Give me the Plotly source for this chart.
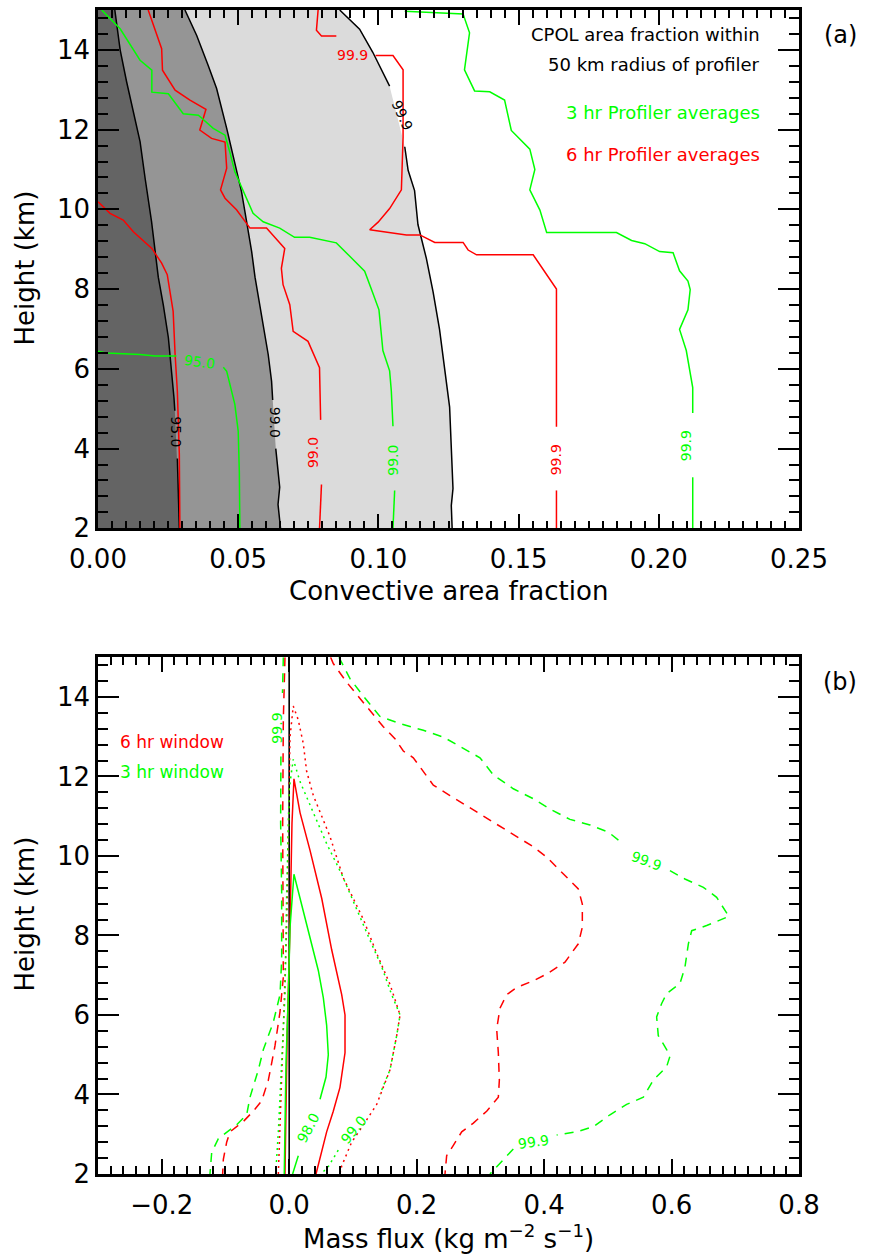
import plotly.graph_objects as go

FONT = "DejaVu Sans"
RED = "#ff0000"
GREEN = "#00ff00"

# ---------------- Panel (a): CPOL convective area fraction percentiles ----------------
# CPOL 95.0 percentile (black)
cpol95_h = [15.0, 14.0, 13.2, 12.44, 11.7, 10.78, 9.69, 8.3, 7.6, 6.78, 5.94, 5.27, 4.95, None, 3.75, 3.03, 2.0]
cpol95_x = [0.006, 0.0079, 0.0102, 0.0126, 0.015, 0.0168, 0.0191, 0.0215, 0.0233, 0.0251, 0.0263, 0.0271, 0.0274, None, 0.0283, 0.0286, 0.029]
# CPOL 99.0 percentile (black)
cpol99_h = [15.0, 14.36, 13.61, 13.03, 12.03, 11.19, 10.44, 9.69, 8.94, 8.3, 7.6, 6.94, 6.36, 5.69, 5.22, None, 4.0, 3.6, 3.03, 2.6, 2.0]
cpol99_x = [0.031, 0.0352, 0.0393, 0.0423, 0.0459, 0.0488, 0.0512, 0.053, 0.0548, 0.056, 0.0577, 0.0595, 0.0607, 0.0619, 0.0623, None, 0.0634, 0.064, 0.0648, 0.0642, 0.0651]
# CPOL 99.9 percentile (black)
cpol999_h = [15.0, 14.52, 13.94, 13.09, None, 11.57, 10.98, 10.47, 9.62, 8.77, 7.93, 6.99, 6.06, 5.04, 3.0, 2.57, 2.0]
cpol999_x = [0.0862, 0.0933, 0.098, 0.104, None, 0.1094, 0.1106, 0.1129, 0.1141, 0.1171, 0.1195, 0.1218, 0.1236, 0.1254, 0.1266, 0.126, 0.1263]

# 6 hr profiler averages (red)
p6_95_h = [10.19, 9.9, 9.73, 9.44, 9.02, 8.65, 8.36, 7.94, 7.44, 6.36, 5.44, 3.86, 2.0]
p6_95_x = [0.0, 0.0043, 0.009, 0.0126, 0.0192, 0.0227, 0.0247, 0.0257, 0.0268, 0.0275, 0.0283, 0.029, 0.0292]
p6_99_h = [15.0, 14.03, 13.49, 12.99, 12.74, 12.51, 11.99, 11.78, 11.69, 11.03, 10.49, 10.28, 9.99, 9.53, 9.53, 9.02, 8.52, 8.11, 7.61, 6.94, 6.69, 6.03, 4.72, None, 3.1, 2.0]
p6_99_x = [0.0179, 0.0227, 0.023, 0.0275, 0.0328, 0.0385, 0.0363, 0.0405, 0.0453, 0.0459, 0.0437, 0.0453, 0.0494, 0.0542, 0.0601, 0.0666, 0.0654, 0.066, 0.0684, 0.0696, 0.0749, 0.079, 0.0794, None, 0.0797, 0.079]
p6_999_h = [15.0, 14.49, 14.35, 14.35, None, 13.86, 13.86, 13.5, 11.8, 10.49, 10.02, 9.68, 9.49, 9.36, 9.36, 9.17, 9.17, 8.98, 8.86, 8.86, 8.0, 4.55, None, 2.95, 2.0]
p6_999_x = [0.0785, 0.0779, 0.0797, 0.085, None, 0.099, 0.1052, 0.1088, 0.1088, 0.1082, 0.104, 0.0999, 0.0969, 0.11, 0.1148, 0.1201, 0.1302, 0.132, 0.135, 0.1552, 0.1635, 0.1635, None, 0.1635, 0.1635]

# 3 hr profiler averages (green)
p3_95_h = [6.44, 6.4, 6.36, 6.32, 6.32, None, 6.04, 5.94, 5.11, 4.44, 3.44, 2.0]
p3_95_x = [0.0, 0.003, 0.015, 0.0203, 0.028, None, 0.0447, 0.0459, 0.0488, 0.05, 0.0504, 0.0506]
p3_99_h = [15.0, 14.53, 13.74, 13.49, 12.94, 12.9, 12.4, 12.36, 12.03, 11.86, 11.44, 10.94, 9.9, 9.69, 9.53, 9.3, 9.3, 9.22, 9.16, 8.83, 8.45, 7.9, 7.48, 6.46, 5.95, 5.45, 4.56, None, 2.95, 2.0]
p3_99_x = [0.0013, 0.0079, 0.015, 0.0192, 0.0192, 0.0251, 0.0304, 0.0358, 0.0411, 0.0453, 0.047, 0.0488, 0.0553, 0.0589, 0.0648, 0.0701, 0.0755, 0.0803, 0.085, 0.0897, 0.0951, 0.098, 0.1002, 0.1016, 0.104, 0.1046, 0.1052, None, 0.1058, 0.1052]
p3_999_h = [14.97, 14.9, 14.43, 13.5, 12.97, 12.95, 12.74, 11.98, 11.51, 11.0, 10.49, 9.98, 9.42, 9.42, 9.22, 9.14, 8.94, 8.91, 8.46, 8.2, 7.99, 7.48, 6.99, 6.46, 5.53, 4.89, None, 3.28, 2.0]
p3_999_x = [0.1094, 0.1302, 0.1325, 0.1307, 0.1343, 0.1397, 0.145, 0.1474, 0.154, 0.1558, 0.154, 0.1576, 0.16, 0.1849, 0.1903, 0.195, 0.2003, 0.2051, 0.2074, 0.2104, 0.2112, 0.2104, 0.2074, 0.2098, 0.2121, 0.2121, None, 0.2121, 0.2121]

# ---------------- Panel (b): mass flux percentiles ----------------
# 3 hr window, 98.0 (solid green)
m3_98_x = [-0.0077, -0.005, -0.0013, 0.0013, 0.0075, 0.0222, 0.0379, 0.0457, 0.0536, 0.0588, 0.0614, 0.0578, 0.0484, None, 0.0143, 0.0054]
m3_98_h = [2.0, 4.8, 6.5, 8.2, 9.54, 8.59, 7.64, 7.12, 6.43, 5.74, 5.0, 4.44, 3.88, None, 2.46, 2.0]
# 6 hr window, 98.0 (solid red)
m6_98_x = [-0.0066, -0.003, 0.0013, 0.0044, 0.0075, 0.017, 0.0327, 0.0511, 0.0667, 0.0824, 0.0876, 0.0876, 0.0797, 0.0692, 0.0588, 0.0511, 0.0421]
m6_98_h = [2.0, 5.65, 8.24, 10.83, 11.94, 11.09, 10.14, 8.93, 7.64, 6.51, 6.0, 5.05, 4.18, 3.58, 3.06, 2.54, 2.0]
# 3 hr window, 99.0 (dotted green)
m3_99_x = [-0.0212, -0.017, -0.0118, -0.0066, -0.0039, 0.0002, 0.0064, 0.017, 0.0379, 0.0588, 0.0824, 0.1006, 0.1241, 0.1452, 0.1608, 0.174, 0.1687, 0.1582, 0.1425, None, 0.077, 0.062, 0.05]
m3_99_h = [2.0, 3.06, 4.8, 6.5, 9.1, 11.7, 12.43, 11.87, 11.09, 10.31, 9.54, 8.85, 7.98, 7.21, 6.51, 6.0, 5.48, 4.62, 4.01, None, 2.6, 2.2, 2.0]
# 6 hr window, 99.0 (dotted red)
m6_99_x = [-0.017, -0.0134, -0.0092, -0.0039, -0.0013, 0.0013, 0.0064, 0.0143, 0.0222, 0.0274, 0.0379, 0.064, 0.0849, 0.1163, 0.1373, 0.1582, 0.174, 0.1687, 0.1582, 0.1373, 0.1163, 0.098, 0.0824, 0.0797]
m6_99_h = [2.0, 3.93, 5.65, 8.24, 10.83, 12.99, 13.77, 13.42, 12.82, 12.13, 11.52, 10.49, 9.45, 8.41, 7.55, 6.77, 6.0, 5.48, 4.62, 3.75, 3.23, 2.8, 2.2, 2.0]
# 3 hr window, 99.9 (dashed green): left and right branches
m3_999L_x = [-0.0092, -0.0105, None, -0.013, -0.0134, -0.0118, -0.0118, -0.0144, -0.0249, -0.0405, -0.0484, -0.0615, -0.0667, -0.0824, -0.0981, -0.1112, -0.1216, -0.1243]
m3_999L_h = [15.0, 14.1, None, 12.5, 10.83, 9.1, 7.38, 6.51, 5.82, 5.13, 4.62, 3.93, 3.49, 3.24, 3.06, 2.89, 2.54, 2.0]
m3_999R_x = [0.078, 0.0954, 0.1163, 0.1425, 0.1739, 0.2105, 0.2419, 0.2707, 0.2994, 0.3203, 0.3517, 0.3831, 0.4092, 0.4406, 0.472, 0.5008, 0.5243, None, 0.5975, 0.621, 0.65, 0.6708, 0.69, 0.676, 0.6551, 0.6316, 0.6264, 0.621, 0.6132, 0.5923, 0.5845, 0.5766, 0.5792, 0.5923, 0.5975, 0.5923, 0.5714, 0.5557, 0.5295, 0.5034, 0.4772, 0.4511, 0.4197, None, 0.3517, 0.336, 0.3203, 0.3151]
m3_999R_h = [15.0, 14.46, 14.02, 13.51, 13.33, 13.16, 12.99, 12.73, 12.47, 12.04, 11.69, 11.44, 11.18, 10.92, 10.78, 10.6, 10.3, None, 9.63, 9.42, 9.21, 8.96, 8.48, 8.38, 8.25, 8.12, 7.79, 7.2, 6.79, 6.54, 6.29, 5.95, 5.48, 5.13, 4.96, 4.7, 4.36, 3.93, 3.75, 3.49, 3.19, 3.06, 2.98, None, 2.63, 2.37, 2.11, 2.0]
# 6 hr window, 99.9 (dashed red): left and right branches
m6_999L_x = [-0.0066, -0.0092, -0.0102, -0.0092, -0.0092, -0.0144, -0.0223, -0.0327, -0.0432, -0.0563, -0.072, -0.0929, -0.0981, -0.1033, -0.1044]
m6_999L_h = [15.0, 13.42, 10.83, 8.24, 6.95, 6.08, 5.22, 4.36, 3.84, 3.58, 3.32, 3.06, 2.8, 2.37, 2.0]
m6_999R_x = [0.065, 0.0692, 0.0902, 0.1216, 0.1477, 0.166, 0.1791, 0.1948, 0.2105, 0.2262, 0.2523, 0.2785, 0.3047, 0.3308, 0.357, 0.3831, 0.4041, 0.4302, 0.4537, 0.46, 0.46, 0.4537, 0.4328, 0.4041, 0.3831, 0.357, 0.3413, 0.3308, 0.3256, 0.3282, 0.3298, 0.3282, 0.3099, 0.289, 0.2707, 0.2576, 0.2471, 0.2445]
m6_999R_h = [15.0, 14.84, 14.37, 13.77, 13.25, 12.95, 12.64, 12.47, 12.13, 11.78, 11.52, 11.26, 11.0, 10.74, 10.49, 10.23, 9.97, 9.54, 9.17, 8.79, 8.21, 7.79, 7.33, 7.03, 6.86, 6.69, 6.51, 6.17, 5.65, 5.05, 4.36, 3.93, 3.58, 3.28, 3.06, 2.72, 2.46, 2.0]

# ---------------- axis ticks ----------------
height_ticks = [2, 4, 6, 8, 10, 12, 14]
frac_ticks = [0.0, 0.05, 0.10, 0.15, 0.20, 0.25]
flux_ticks = [-0.2, 0.0, 0.2, 0.4, 0.6, 0.8]


def clean(xs, ys):
    pts = [(a, b) for a, b in zip(xs, ys) if a is not None]
    return [p[0] for p in pts], [p[1] for p in pts]


fig = go.Figure()

# gray filled percentile regions (panel a)
for xs, ys, col in [(cpol999_x, cpol999_h, "#dbdbdb"),
                    (cpol99_x, cpol99_h, "#959595"),
                    (cpol95_x, cpol95_h, "#646464")]:
    cx, cy = clean(xs, ys)
    fig.add_trace(go.Scatter(x=cx, y=cy, mode="lines", fill="tozerox", fillcolor=col,
                             line=dict(width=0, color=col), hoverinfo="skip", showlegend=False,
                             xaxis="x", yaxis="y"))

for xs, ys, col in [(cpol95_x, cpol95_h, "black"), (cpol99_x, cpol99_h, "black"), (cpol999_x, cpol999_h, "black"),
                    (p6_95_x, p6_95_h, RED), (p6_99_x, p6_99_h, RED), (p6_999_x, p6_999_h, RED),
                    (p3_95_x, p3_95_h, GREEN), (p3_99_x, p3_99_h, GREEN), (p3_999_x, p3_999_h, GREEN)]:
    fig.add_trace(go.Scatter(x=xs, y=ys, mode="lines", line=dict(color=col, width=1.5),
                             connectgaps=False, showlegend=False, xaxis="x", yaxis="y"))

# panel (b)
fig.add_trace(go.Scatter(x=[0, 0], y=[2, 15], mode="lines", line=dict(color="black", width=1.6),
                         showlegend=False, xaxis="x2", yaxis="y2"))
for xs, ys, col, dash in [(m6_999L_x, m6_999L_h, RED, "9px,7px"), (m6_999R_x, m6_999R_h, RED, "9px,7px"),
                          (m3_999L_x, m3_999L_h, GREEN, "9px,7px"), (m3_999R_x, m3_999R_h, GREEN, "9px,7px"),
                          (m6_99_x, m6_99_h, RED, "2px,4px"), (m3_99_x, m3_99_h, GREEN, "2px,4px"),
                          (m6_98_x, m6_98_h, RED, "solid"), (m3_98_x, m3_98_h, GREEN, "solid")]:
    fig.add_trace(go.Scatter(x=xs, y=ys, mode="lines", line=dict(color=col, width=1.5, dash=dash),
                             connectgaps=False, showlegend=False, xaxis="x2", yaxis="y2"))

TOP_A = 0.5547
axis_common = dict(showgrid=False, zeroline=False, showline=True, linecolor="black", linewidth=2.5,
                   mirror="allticks", ticks="inside", tickcolor="black", tickwidth=2,
                   tickfont=dict(family=FONT, size=26, color="black"))

fig.update_layout(
    width=871, height=1254,
    margin=dict(l=98, r=72, t=7, b=80),
    paper_bgcolor="white", plot_bgcolor="white",
    showlegend=False,
    xaxis=dict(axis_common, domain=[0, 1], range=[0, 0.25], anchor="y",
               tickvals=frac_ticks, tickformat=".2f", ticklen=15, ticklabelstandoff=6,
               minor=dict(dtick=0.005, tick0=0, ticks="inside", ticklen=8, tickwidth=2, tickcolor="black")),
    yaxis=dict(axis_common, domain=[TOP_A, 1], range=[2, 15], anchor="x",
               tickvals=height_ticks, ticklen=21,
               minor=dict(dtick=0.4, tick0=2, ticks="inside", ticklen=10, tickwidth=2, tickcolor="black")),
    xaxis2=dict(axis_common, domain=[0, 1], range=[-0.3, 0.8], anchor="y2",
                tickvals=flux_ticks, tickformat=".1f", ticklen=15, ticklabelstandoff=6,
                minor=dict(dtick=0.02, tick0=0, ticks="inside", ticklen=8, tickwidth=2, tickcolor="black")),
    yaxis2=dict(axis_common, domain=[0, 0.444], range=[2, 15], anchor="x2",
                tickvals=height_ticks, ticklen=21,
                minor=dict(dtick=0.4, tick0=2, ticks="inside", ticklen=10, tickwidth=2, tickcolor="black")),
)

ann = []


def txt(x, y, s, color="black", size=18, angle=0, xref="x", yref="y", xanchor="center"):
    ann.append(dict(x=x, y=y, text=s, xref=xref, yref=yref, showarrow=False, textangle=angle,
                    xanchor=xanchor, yanchor="middle",
                    font=dict(family=FONT, size=size, color=color)))


# axis titles and panel tags
txt(-0.104, 0.778, "Height (km)", size=26, angle=-90, xref="paper", yref="paper")
txt(-0.104, 0.223, "Height (km)", size=26, angle=-90, xref="paper", yref="paper")
txt(0.5, 0.501, "Convective area fraction", size=26, xref="paper", yref="paper")
txt(0.5, -0.054, "Mass flux (kg m<sup>\u22122</sup> s<sup>\u22121</sup>)", size=26, xref="paper", yref="paper")
txt(1.0585, 0.9786, "(a)", size=24, xref="paper", yref="paper")
txt(1.0585, 0.4225, "(b)", size=24, xref="paper", yref="paper")

# panel (a) legend text
txt(0.2367, 14.38, "CPOL area fraction within", size=18, xanchor="right")
txt(0.2367, 13.63, "50 km radius of profiler", size=18, xanchor="right")
txt(0.2367, 12.43, "3 hr Profiler averages", color=GREEN, size=18, xanchor="right")
txt(0.2367, 11.38, "6 hr Profiler averages", color=RED, size=18, xanchor="right")

# panel (a) contour labels
txt(0.028, 4.42, "95.0", size=14, angle=90)
txt(0.0631, 4.65, "99.0", size=14, angle=90)
txt(0.1085, 12.37, "99.9", size=14, angle=65)
txt(0.0765, 3.9, "99.0", color=RED, size=14, angle=-90)
txt(0.0907, 13.86, "99.9", color=RED, size=14)
txt(0.1632, 3.72, "99.9", color=RED, size=14, angle=-90)
txt(0.0363, 6.17, "95.0", color=GREEN, size=14, angle=8)
txt(0.1052, 3.72, "99.0", color=GREEN, size=14, angle=-90)
txt(0.2095, 4.07, "99.9", color=GREEN, size=14, angle=-90)

# panel (b) legend text and contour labels
txt(-0.2681, 12.86, "6 hr window", color=RED, size=17, xref="x2", yref="y2", xanchor="left")
txt(-0.2681, 12.12, "3 hr window", color=GREEN, size=17, xref="x2", yref="y2", xanchor="left")
txt(-0.0196, 13.22, "99.9", color=GREEN, size=14, angle=-90, xref="x2", yref="y2")
txt(0.03, 3.15, "98.0", color=GREEN, size=14, angle=-62, xref="x2", yref="y2")
txt(0.1006, 3.11, "99.0", color=GREEN, size=14, angle=-50, xref="x2", yref="y2")
txt(0.561, 9.88, "99.9", color=GREEN, size=14, angle=20, xref="x2", yref="y2")
txt(0.383, 2.8, "99.9", color=GREEN, size=14, angle=-8, xref="x2", yref="y2")

fig.update_layout(annotations=ann)
fig.write_html("out.html", config={"displayModeBar": False},
               post_script="document.body.style.margin='0px';")
